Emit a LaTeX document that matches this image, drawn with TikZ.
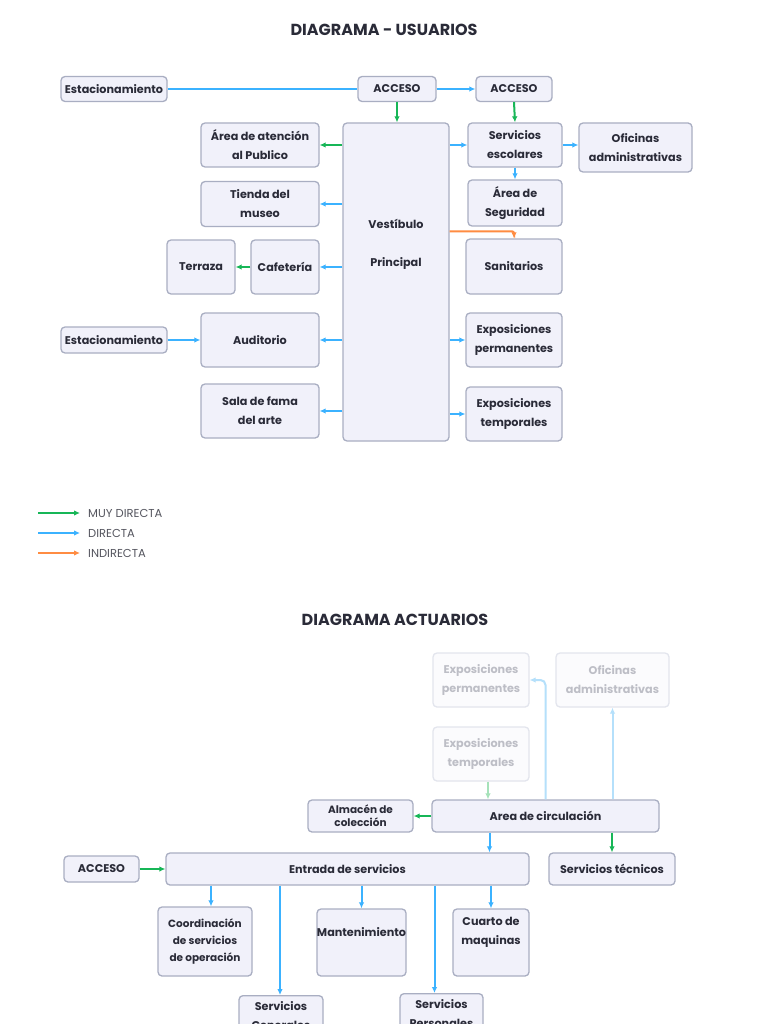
\documentclass[tikz,border=0pt]{standalone}
\usepackage{fontspec}
\setmainfont{Poppins}
\usepackage{tikz}
\usetikzlibrary{arrows.meta,backgrounds}

\definecolor{boxfill}{HTML}{F1F1FA}
\definecolor{boxline}{HTML}{A9AEC2}
\definecolor{txt}{HTML}{2A2B38}
\definecolor{verde}{HTML}{17B657}
\definecolor{azul}{HTML}{3BB2FF}
\definecolor{naranja}{HTML}{FF8C42}
\definecolor{fadefill}{HTML}{FBFBFD}
\definecolor{fadeline}{HTML}{E3E5ED}
\definecolor{fadetxt}{HTML}{BDBEC6}
\definecolor{fadeazul}{HTML}{B5E0FB}
\definecolor{fadeverde}{HTML}{A6E2BA}
\definecolor{legtxt}{HTML}{55565F}

\tikzset{
  caja/.style={draw=boxline, fill=boxfill, line width=1.3pt, rounded corners=4pt,
    align=center, inner sep=0pt, text=txt,
    font=\fontsize{11.2}{19}\selectfont\bfseries},
  tenue/.style={caja, draw=fadeline, fill=fadefill, text=fadetxt},
  rotulo/.style={align=center, inner sep=0pt, text=txt,
    font=\fontsize{11.2}{19}\selectfont\bfseries},
  titulo/.style={text=txt, font=\fontsize{16}{20}\selectfont\bfseries},
  flecha/.style={line width=2pt, -{Latex[length=6pt,width=5.5pt]}},
  muydirecta/.style={flecha, draw=verde},
  directa/.style={flecha, draw=azul},
  indirecta/.style={flecha, draw=naranja},
  leyenda/.style={text=legtxt, anchor=west, inner sep=0pt, font=\fontsize{11.5}{14}\selectfont}
}

\begin{document}
\begin{tikzpicture}[x=1pt,y=-1pt]
  \useasboundingbox[fill=white] (0,0) rectangle (768,1024);
  \clip (0,0) rectangle (768,1024);

  % usuarios
  \node[titulo] (t1) at (384,30) {DIAGRAMA - USUARIOS};

  \node[caja, minimum width=106pt, minimum height=25pt] (est1) at (114,89) {Estacionamiento};
  \node[caja, minimum width=78pt, minimum height=25pt] (acc1) at (397,89) {ACCESO};
  \node[caja, minimum width=76pt, minimum height=25pt] (acc2) at (514,89) {ACCESO};
  \node[caja, minimum width=106pt, minimum height=318pt] (vest) at (396,282) {};
  \node[rotulo] (vestxt) at (396,244) {Vestíbulo\\[19pt]Principal};

  \node[caja, minimum width=118pt, minimum height=44pt] (aten) at (260,145) {Área de atención\\al Publico};
  \node[caja, minimum width=118pt, minimum height=45pt] (tien) at (260,204) {Tienda del\\museo};
  \node[caja, minimum width=68pt, minimum height=54pt] (terr) at (201,267) {Terraza};
  \node[caja, minimum width=68pt, minimum height=54pt] (cafe) at (285,267) {Cafetería};
  \node[caja, minimum width=118pt, minimum height=54pt] (audi) at (260,340) {Auditorio};
  \node[caja, minimum width=106pt, minimum height=26pt] (est2) at (114,340) {Estacionamiento};
  \node[caja, minimum width=118pt, minimum height=54pt] (sala) at (260,411) {Sala de fama\\del arte};

  \node[caja, minimum width=94pt, minimum height=44pt] (esco) at (515,145) {Servicios\\escolares};
  \node[caja, minimum width=113pt, minimum height=49pt] (ofi1) at (635.5,147.5) {Oficinas\\administrativas};
  \node[caja, minimum width=94pt, minimum height=46pt] (segu) at (515,203) {Área de\\Seguridad};
  \node[caja, minimum width=96pt, minimum height=55pt] (sani) at (514,266.5) {Sanitarios};
  \node[caja, minimum width=96pt, minimum height=54pt] (expp1) at (514,340) {Exposiciones\\permanentes};
  \node[caja, minimum width=96pt, minimum height=54pt] (expt1) at (514,414) {Exposiciones\\temporales};

  \draw[draw=azul, line width=1.8pt] (est1) -- (acc1);
  \draw[directa] (acc1) -- (acc2);
  \draw[muydirecta] (acc1.south) -- (acc1.south |- vest.north);
  \draw[muydirecta] (acc2.south) -- (esco.north);
  \draw[muydirecta] (vest.west |- aten.east) -- (aten.east);
  \draw[directa] (vest.west |- tien.east) -- (tien.east);
  \draw[directa] (vest.west |- cafe.east) -- (cafe.east);
  \draw[muydirecta] (cafe) -- (terr);
  \draw[directa] (vest.west |- audi.east) -- (audi.east);
  \draw[directa] (est2) -- (audi);
  \draw[directa] (vest.west |- sala.east) -- (sala.east);
  \draw[directa] (vest.east |- esco.west) -- (esco.west);
  \draw[directa] (esco.east) -- (ofi1.west |- esco.east);
  \draw[directa] (esco.south) -- (segu.north);
  \draw[indirecta, rounded corners=2pt] ([yshift=7pt]vest.east |- sani.north) -| (sani.north);
  \draw[directa] (vest.east |- expp1.west) -- (expp1.west);
  \draw[directa] (vest.east |- expt1.west) -- (expt1.west);

  % leyenda
  \coordinate (l1a) at (38,513); \coordinate (l1b) at (80,513);
  \coordinate (l2a) at (38,533); \coordinate (l2b) at (80,533);
  \coordinate (l3a) at (38,553); \coordinate (l3b) at (80,553);
  \draw[muydirecta, line width=2.4pt] (l1a) -- (l1b);
  \draw[directa, line width=2.4pt] (l2a) -- (l2b);
  \draw[indirecta, line width=2.4pt] (l3a) -- (l3b);
  \node[leyenda] (ley1) at (88,513) {MUY DIRECTA};
  \node[leyenda] (ley2) at (88,533) {DIRECTA};
  \node[leyenda] (ley3) at (88,553) {INDIRECTA};

  % actuarios
  \node[titulo] (t2) at (395,620) {DIAGRAMA ACTUARIOS};

  \node[tenue, minimum width=96pt, minimum height=54pt] (expp2) at (481,680) {Exposiciones\\permanentes};
  \node[tenue, minimum width=113pt, minimum height=54pt] (ofi2) at (612.5,680) {Oficinas\\administrativas};
  \node[tenue, minimum width=96pt, minimum height=54pt] (expt2) at (481,754) {Exposiciones\\temporales};
  \node[caja, minimum width=227pt, minimum height=32pt] (circ) at (545.5,816) {Area de circulación};
  \node[caja, minimum width=105pt, minimum height=32pt, font=\fontsize{10.5}{13}\selectfont\bfseries] (alma) at (360.5,816) {Almacén de\\colección};
  \node[caja, minimum width=75pt, minimum height=26pt] (acc3) at (101.5,869) {ACCESO};
  \node[caja, minimum width=363pt, minimum height=32pt] (entr) at (347.5,869) {Entrada de servicios};
  \node[caja, minimum width=126pt, minimum height=32pt] (tecn) at (612,869) {Servicios técnicos};
  \node[caja, minimum width=94pt, minimum height=69pt, font=\fontsize{10.5}{17}\selectfont\bfseries] (coor) at (205,941.5) {Coordinación\\de servicios\\de operación};
  \node[caja, minimum width=89pt, minimum height=67pt] (mant) at (361.5,942.5) {};
  \node[rotulo] (mantxt) at (361.5,932) {Mantenimiento};
  \node[caja, minimum width=76pt, minimum height=67pt] (cuar) at (491,942.5) {};
  \node[rotulo] (cuatxt) at (491,932.5) {Cuarto de\\maquinas};
  \node[caja, minimum width=84pt, minimum height=60pt, anchor=north] (gene) at (281,995) {};
  \node[rotulo, anchor=north] (gentxt) at (281,1001) {Servicios\\Generales};
  \node[caja, minimum width=83pt, minimum height=60pt, anchor=north] (pers) at (441.5,993) {};
  \node[rotulo, anchor=north] (pertxt) at (441.5,999) {Servicios\\Personales};

  \draw[flecha, draw=fadeverde] ([xshift=7pt]expt2.south) -- ([xshift=7pt]expt2.south |- circ.north);
  \draw[flecha, draw=fadeazul, rounded corners=5pt] (circ.north) |- (expp2.east);
  \draw[flecha, draw=fadeazul] (ofi2.south |- circ.north) -- (ofi2.south);
  \draw[muydirecta] (circ.west) -- (alma.east);
  \draw[directa] ([xshift=-56pt]circ.south) -- ([xshift=-56pt]circ.south |- entr.north);
  \draw[muydirecta] (tecn.north |- circ.south) -- (tecn.north);
  \draw[muydirecta] (acc3) -- (entr);
  \draw[directa] ([xshift=6pt]coor.north |- entr.south) -- ([xshift=6pt]coor.north);
  \draw[directa] (mant.north |- entr.south) -- (mant.north);
  \draw[directa] (cuar.north |- entr.south) -- (cuar.north);
  \draw[directa] ([xshift=-1pt]gene.north |- entr.south) -- ([xshift=-1pt]gene.north);
  \draw[directa] ([xshift=-7pt]pers.north |- entr.south) -- ([xshift=-7pt]pers.north);
\end{tikzpicture}
\end{document}
